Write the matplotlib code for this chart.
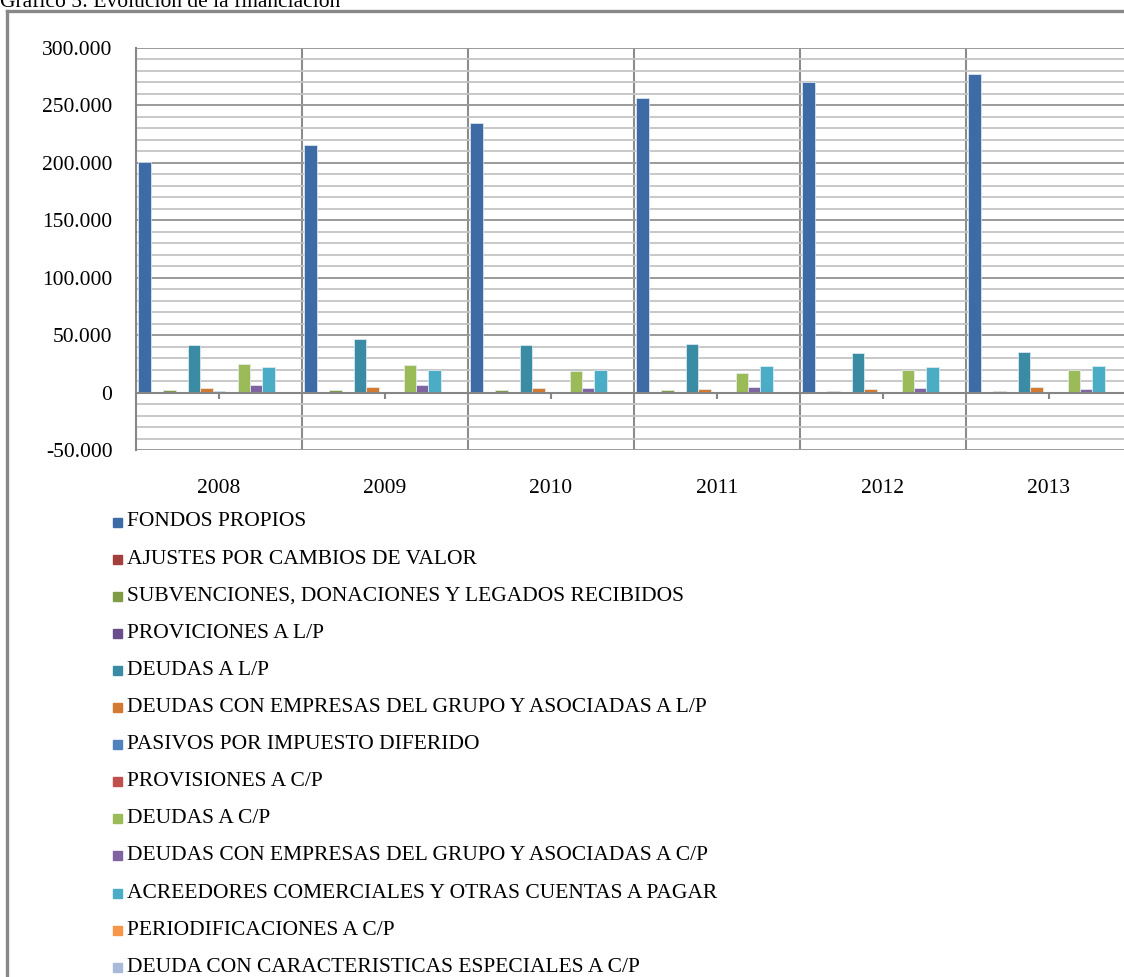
import matplotlib.pyplot as plt
from matplotlib.lines import Line2D
from matplotlib.patches import Rectangle
from matplotlib.ticker import MultipleLocator, FuncFormatter
import numpy as np

plt.rcParams['font.family'] = ['Liberation Serif', 'DejaVu Serif']

years = ['2008', '2009', '2010', '2011', '2012', '2013']
series = ['FONDOS PROPIOS',
          'AJUSTES POR CAMBIOS DE VALOR',
          'SUBVENCIONES, DONACIONES Y LEGADOS RECIBIDOS',
          'PROVICIONES A L/P',
          'DEUDAS A L/P',
          'DEUDAS CON EMPRESAS DEL GRUPO Y ASOCIADAS A L/P',
          'PASIVOS POR IMPUESTO DIFERIDO',
          'PROVISIONES A C/P',
          'DEUDAS A C/P',
          'DEUDAS CON EMPRESAS DEL GRUPO Y ASOCIADAS A C/P',
          'ACREEDORES COMERCIALES Y OTRAS CUENTAS A PAGAR',
          'PERIODIFICACIONES A C/P',
          'DEUDA CON CARACTERISTICAS ESPECIALES A C/P']
colors = ['#3D6BA5', '#A33F3D', '#7F9C45', '#6A4E8B', '#398CA4', '#D27A32',
          '#4F81BD', '#C0504D', '#9BBB59', '#8064A2', '#4BACC6', '#F79646',
          '#A9B9D8']

fondos_propios = [200500, 215500, 234500, 256500, 270000, 277000]
ajustes = [0, 0, 0, 0, 0, 0]
subvenciones = [2000, 2300, 2600, 2000, 1700, 1700]
provisiones_lp = [0, 0, 0, 0, 0, 0]
deudas_lp = [41600, 46800, 41000, 42200, 34600, 35100]
grupo_lp = [4400, 4600, 4100, 3500, 3500, 4600]
pasivos_diferido = [1700, 0, 0, 0, 0, 0]
provisiones_cp = [0, 0, 0, 0, 0, 0]
deudas_cp = [25000, 23600, 19200, 17200, 20000, 20000]
grupo_cp = [6400, 6400, 4100, 5200, 4400, 3200]
acreedores = [22000, 19500, 19800, 22700, 22000, 22700]
periodificaciones = [0, 0, 0, 0, 0, 0]
especiales = [0, 0, 0, 0, 0, 0]

values = [fondos_propios, ajustes, subvenciones, provisiones_lp, deudas_lp,
          grupo_lp, pasivos_diferido, provisiones_cp, deudas_cp, grupo_cp,
          acreedores, periodificaciones, especiales]

W, H = 1124, 977
fig = plt.figure(figsize=(W / 100, H / 100), dpi=100)

# plot area (right edge runs past the picture, as in the cropped original)
ax = fig.add_axes([136 / W, (H - 450) / H, (1132 - 136) / W, (450 - 48) / H])

n = len(series)
bw = 1 / (n + 0.4)
x = np.arange(len(years))
for i in range(n):
    ax.bar(x - 0.5 + 0.2 * bw + (i + 0.5) * bw, values[i], width=bw,
           color=colors[i], edgecolor='#E8EEF4', linewidth=0.5, zorder=3)

ax.set_xlim(-0.5, len(years) - 0.5)
ax.set_ylim(-50000, 300000)
ax.yaxis.set_major_locator(MultipleLocator(50000))
ax.yaxis.set_minor_locator(MultipleLocator(10000))
ax.yaxis.set_major_formatter(FuncFormatter(lambda v, p: f'{int(v):,}'.replace(',', '.')))
ax.grid(axis='y', which='major', color='#9A9A9A', linewidth=1.4, zorder=0)
ax.grid(axis='y', which='minor', color='#C4C4C4', linewidth=1.3, zorder=0)
for b in np.arange(0.5, len(years) - 0.5, 1):
    ax.axvline(b, color='#8C8C8C', linewidth=1.5, zorder=1)

ax.set_xticks(x)
ax.set_xticklabels(years)
ax.spines['bottom'].set_position(('data', 0))
ax.spines['bottom'].set_color('#868686')
ax.spines['bottom'].set_linewidth(1.5)
ax.spines['bottom'].set_zorder(4)
ax.spines['left'].set_color('#868686')
ax.spines['left'].set_linewidth(1.5)
ax.spines['top'].set_visible(False)
ax.spines['right'].set_visible(False)
ax.tick_params(axis='x', length=4, width=1.5, color='#868686', pad=58, labelsize=15.5)
ax.tick_params(axis='y', which='both', length=0, pad=17, labelsize=15.5)

# legend drawn as a vertical list below the plot
for i in range(n):
    yc = 522 + i * 37.1
    fig.patches.append(Rectangle((113 / W, (H - yc - 4.5) / H), 9 / W, 9 / H,
                                 transform=fig.transFigure, color=colors[i]))
    fig.text(127 / W, (H - yc) / H, series[i], fontsize=15.5, va='center', ha='left')

# chart frame (cropped at right and bottom)
fig.lines.append(Line2D([7 / W, 7 / W], [0, (H - 11) / H], transform=fig.transFigure,
                        color='#888888', linewidth=2.4))
fig.lines.append(Line2D([7 / W, 1], [(H - 11) / H, (H - 11) / H], transform=fig.transFigure,
                        color='#888888', linewidth=2.4))

fig.text(0, 1 - 7 / H, 'Gráfico 5: Evolución de la financiación', fontsize=15.5,
         va='baseline', ha='left')

fig.savefig('out.png', dpi=100)
